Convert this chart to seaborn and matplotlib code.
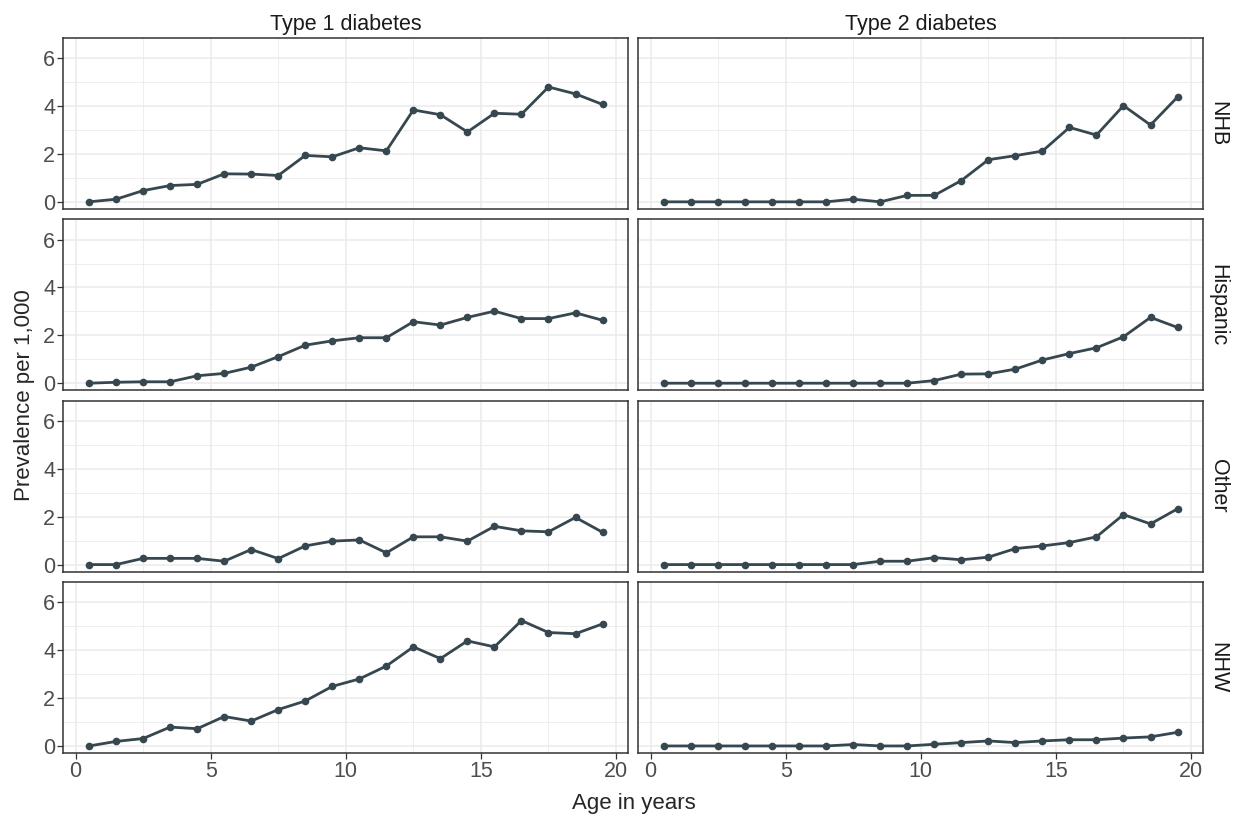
import seaborn as sns
import matplotlib.pyplot as plt
import pandas as pd
import numpy as np

ages = [0.5 + i for i in range(20)]
groups = ['NHB', 'Hispanic', 'Other', 'NHW']
types = ['Type 1 diabetes', 'Type 2 diabetes']

t1_nhb = [0, 0.11, 0.47, 0.68, 0.73, 1.17, 1.16, 1.10, 1.94, 1.88,
          2.26, 2.13, 3.84, 3.64, 2.92, 3.70, 3.66, 4.80, 4.51, 4.07]
t2_nhb = [0, 0, 0, 0, 0, 0, 0, 0.11, 0, 0.27,
          0.27, 0.89, 1.76, 1.93, 2.12, 3.11, 2.79, 4.02, 3.21, 4.38]
t1_hisp = [0, 0.04, 0.06, 0.06, 0.31, 0.41, 0.67, 1.11, 1.59, 1.77,
           1.90, 1.90, 2.57, 2.43, 2.75, 3.01, 2.70, 2.70, 2.94, 2.63]
t2_hisp = [0, 0, 0, 0, 0, 0, 0, 0, 0, 0,
           0.11, 0.38, 0.39, 0.59, 0.97, 1.24, 1.48, 1.94, 2.75, 2.33]
t1_other = [0, 0, 0.26, 0.26, 0.26, 0.14, 0.63, 0.25, 0.78, 0.98,
            1.03, 0.49, 1.16, 1.16, 0.98, 1.60, 1.41, 1.37, 1.97, 1.35]
t2_other = [0, 0, 0, 0, 0, 0, 0, 0, 0.14, 0.14,
            0.29, 0.20, 0.31, 0.67, 0.78, 0.92, 1.16, 2.09, 1.70, 2.33]
t1_nhw = [0, 0.19, 0.31, 0.79, 0.72, 1.23, 1.04, 1.52, 1.88, 2.49,
          2.80, 3.34, 4.14, 3.65, 4.39, 4.14, 5.24, 4.74, 4.69, 5.10]
t2_nhw = [0, 0, 0, 0, 0, 0, 0, 0.06, 0, 0,
          0.07, 0.14, 0.21, 0.14, 0.21, 0.26, 0.26, 0.33, 0.38, 0.57]

series = {
    ('NHB', 'Type 1 diabetes'): t1_nhb, ('NHB', 'Type 2 diabetes'): t2_nhb,
    ('Hispanic', 'Type 1 diabetes'): t1_hisp, ('Hispanic', 'Type 2 diabetes'): t2_hisp,
    ('Other', 'Type 1 diabetes'): t1_other, ('Other', 'Type 2 diabetes'): t2_other,
    ('NHW', 'Type 1 diabetes'): t1_nhw, ('NHW', 'Type 2 diabetes'): t2_nhw,
}
rows = []
for (g, t), vals in series.items():
    for a, v in zip(ages, vals):
        rows.append({'race': g, 'type': t, 'age': a, 'prev': v})
df = pd.DataFrame(rows)

sns.set_theme(style='white')
plt.rcParams['font.family'] = ['Liberation Sans', 'DejaVu Sans']

line_col = '#36474f'
g = sns.relplot(data=df, x='age', y='prev', row='race', col='type', kind='line',
                row_order=groups, col_order=types, marker='o', color=line_col,
                linewidth=2.0, markersize=5.5, markeredgewidth=0,
                height=2, aspect=3.3, facet_kws=dict(margin_titles=True, sharex=True, sharey=True))
g.figure.set_size_inches(12.43, 8.24)
g.figure.subplots_adjust(left=0.051, right=0.968, top=0.954, bottom=0.086,
                         wspace=0.018, hspace=0.06)

g.set_titles(col_template='{col_name}', row_template='{row_name}', size=15.5, color='#1a1a1a')

nrow, ncol = g.axes.shape
for i in range(nrow):
    for j in range(ncol):
        ax = g.axes[i, j]
        ax.set_xlim(0.5 - 0.95, 19.5 + 0.95)
        ax.set_ylim(-0.3, 6.85)
        ax.set_xticks([0, 5, 10, 15, 20])
        ax.set_xticks([2.5, 7.5, 12.5, 17.5], minor=True)
        ax.set_yticks([0, 2, 4, 6])
        ax.set_yticks([1, 3, 5], minor=True)
        ax.grid(True, which='major', color='#ebebeb', linewidth=1.1)
        ax.grid(True, which='minor', color='#ebebeb', linewidth=0.6)
        ax.set_axisbelow(True)
        for s in ax.spines.values():
            s.set_visible(True)
            s.set_color('#333333')
            s.set_linewidth(1.1)
        ax.tick_params(axis='both', which='major', length=4, width=0.9, color='#333333',
                       labelsize=15.5, labelcolor='#4d4d4d', pad=2)
        ax.tick_params(axis='x', bottom=(i == nrow - 1))
        ax.tick_params(axis='y', left=(j == 0))
        ax.tick_params(which='minor', length=0)
        ax.set_xlabel('')
        ax.set_ylabel('')
        if j == ncol - 1:
            for t in ax.texts:
                t.set_x(1.008)

g.figure.supxlabel('Age in years', fontsize=16, y=0.012, x=0.51)
g.figure.supylabel('Prevalence per 1,000', fontsize=16, x=0.011, y=0.52)

g.figure.savefig('out.png', dpi=100)
